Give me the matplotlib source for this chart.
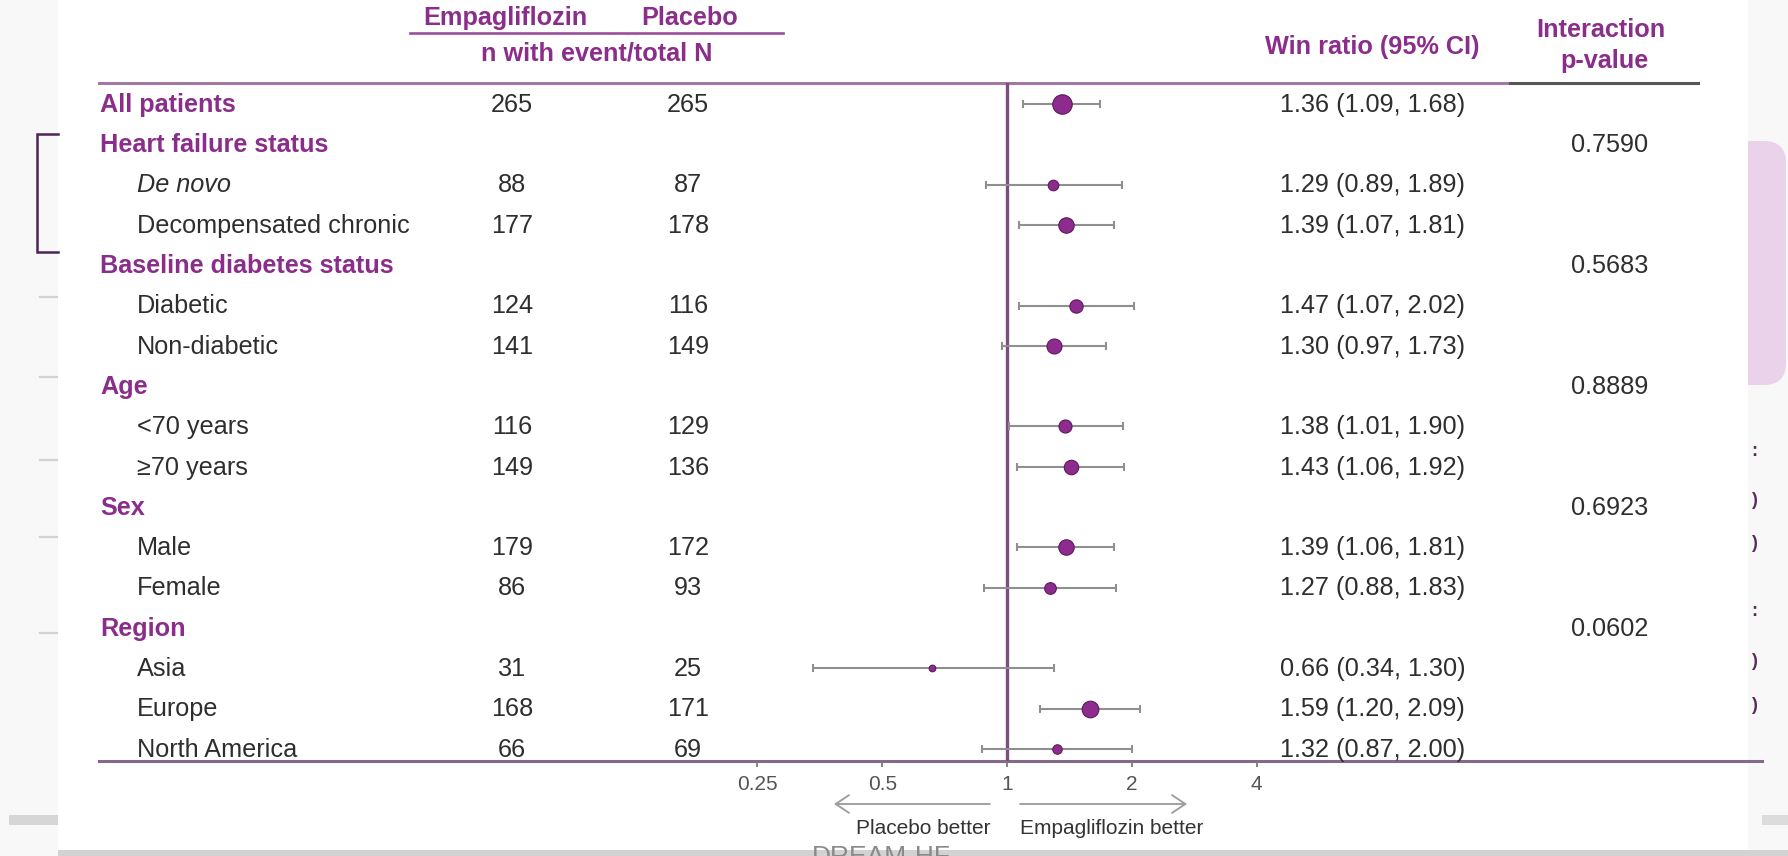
import numpy as np
import matplotlib
matplotlib.use("Agg")
import matplotlib.pyplot as plt
from matplotlib.transforms import blended_transform_factory
from matplotlib.patches import Rectangle, FancyBboxPatch, FancyArrowPatch
from matplotlib.ticker import NullLocator

plt.rcParams["font.family"] = ["Liberation Sans", "DejaVu Sans"]

# ---------------- data ----------------
row_labels = [
    "All patients",
    "Heart failure status", "De novo", "Decompensated chronic",
    "Baseline diabetes status", "Diabetic", "Non-diabetic",
    "Age", "<70 years", "\u226570 years",
    "Sex", "Male", "Female",
    "Region", "Asia", "Europe", "North America",
]
heading_rows = [0, 1, 4, 7, 10, 13]
italic_rows = [2]

n_empagliflozin = [265, None, 88, 177, None, 124, 141, None, 116, 149,
                   None, 179, 86, None, 31, 168, 66]
n_placebo = [265, None, 87, 178, None, 116, 149, None, 129, 136,
             None, 172, 93, None, 25, 171, 69]

win_ratio = [1.36, None, 1.29, 1.39, None, 1.47, 1.30, None, 1.38, 1.43,
             None, 1.39, 1.27, None, 0.66, 1.59, 1.32]
ci_lower = [1.09, None, 0.89, 1.07, None, 1.07, 0.97, None, 1.01, 1.06,
            None, 1.06, 0.88, None, 0.34, 1.20, 0.87]
ci_upper = [1.68, None, 1.89, 1.81, None, 2.02, 1.73, None, 1.90, 1.92,
            None, 1.81, 1.83, None, 1.30, 2.09, 2.00]

interaction_p = [None, "0.7590", None, None, "0.5683", None, None,
                 "0.8889", None, None, "0.6923", None, None,
                 "0.0602", None, None, None]

x_ticks = [0.25, 0.5, 1, 2, 4]
x_tick_labels = ["0.25", "0.5", "1", "2", "4"]

# marker diameter (points) per row, by study weight
marker_diam = [14.0, None, 7.6, 11.1, None, 9.6, 10.8, None, 9.4, 10.4,
               None, 11.1, 8.4, None, 4.8, 12.0, 6.8]

# ---------------- styling ----------------
W, H = 1788, 856
PURPLE = "#8b2d8b"
TEXT = "#2e2e2e"
GREY_CI = "#8f8f8f"
MARKER_FC = "#8d2b8f"
MARKER_EC = "#5c1a5e"
FS = 18.2
FS_SMALL = 15
TEXT_DY = 0.02  # nudge row text onto the marker centre line

fig = plt.figure(figsize=(W / 100, H / 100), dpi=100, facecolor="#f8f8f8")

# full-figure canvas in pixel units (y downwards)
canvas = fig.add_axes([0, 0, 1, 1])
canvas.set_xlim(0, W)
canvas.set_ylim(H, 0)
canvas.axis("off")

# slide panel and surrounding pieces
canvas.add_patch(FancyBboxPatch((1712, 141), 74, 244,
                                boxstyle="round,pad=0,rounding_size=22",
                                fc="#ead2ea", ec="none", zorder=0))
canvas.add_patch(Rectangle((58, 0), 1690, 850, fc="white", ec="none", zorder=0.5))
canvas.add_patch(Rectangle((58, 850), W - 58, 6, fc="#d2d2d2", ec="none", zorder=0.6))
canvas.add_patch(Rectangle((9, 815), 49, 10, fc="#d6d6d6", ec="none", zorder=0.6))
canvas.add_patch(Rectangle((1762, 815), 26, 10, fc="#dcdcdc", ec="none", zorder=0.6))
canvas.text(881, 845, "DREAM-HF", ha="center", va="top", fontsize=19,
            color="#8a8a8a", zorder=1)

# bracket and small dashes at the slide's left edge
canvas.plot([58, 37, 37, 58], [134, 134, 252, 252], color="#4e2456",
            lw=1.8, solid_joinstyle="miter", zorder=1)
for yd in [297, 377, 460, 537, 633]:
    canvas.plot([40, 57], [yd, yd], color="#d2d2d2", lw=1.6, zorder=1)

# partial glyphs at the slide's right edge
for yg, g in [(451, ":"), (500, ")"), (543, ")"), (612, ":"), (662, ")"), (706, ")")]:
    canvas.text(1754, yg, g, ha="center", va="center", fontsize=13,
                fontweight="bold", color="#5a2a5a", zorder=1)

# ---------------- forest axis ----------------
X1_PX, DOUBLING_PX = 1007, 124.8
AX_L, AX_R = 640, 1300
ROW0_PX, ROW_STEP = 104, 40.3
TOP_PX, BOT_PX = 83, 761

ax = fig.add_axes([AX_L / W, (H - BOT_PX) / H, (AX_R - AX_L) / W, (BOT_PX - TOP_PX) / H])
ax.set_xscale("log", base=2)
ax.set_xlim(2 ** ((AX_L - X1_PX) / DOUBLING_PX), 2 ** ((AX_R - X1_PX) / DOUBLING_PX))
ax.set_ylim((BOT_PX - ROW0_PX) / ROW_STEP, (TOP_PX - ROW0_PX) / ROW_STEP)
ax.patch.set_alpha(0)
for s in ax.spines.values():
    s.set_visible(False)
ax.set_yticks([])
ax.set_xticks(x_ticks)
ax.set_xticklabels(x_tick_labels)
ax.xaxis.set_minor_locator(NullLocator())
ax.tick_params(axis="x", direction="out", length=4.3, width=1.3, color="#7a7a7a",
               pad=6, labelsize=FS_SMALL, labelcolor="#555555")

ax.axvline(1, color="#7d4d80", lw=2.4, zorder=1)

for i, (wr, lo, hi) in enumerate(zip(win_ratio, ci_lower, ci_upper)):
    if wr is None:
        continue
    ax.errorbar([wr], [i], xerr=[[wr - lo], [hi - wr]], fmt="none",
                ecolor=GREY_CI, elinewidth=1.5, capsize=3.2, capthick=1.5, zorder=2)
    ax.plot([wr], [i], "o", ms=marker_diam[i], mfc=MARKER_FC, mec=MARKER_EC,
            mew=0.8, zorder=3)

# ---------------- table text ----------------
rows_tf = blended_transform_factory(canvas.transData, ax.transData)

for i, label in enumerate(row_labels):
    y = i + TEXT_DY
    if i in heading_rows:
        canvas.text(100, y, label, transform=rows_tf, ha="left", va="center",
                    fontsize=FS, fontweight="bold", color=PURPLE, zorder=4)
    else:
        canvas.text(137, y, label, transform=rows_tf, ha="left", va="center",
                    fontsize=FS, color=TEXT,
                    fontstyle="italic" if i in italic_rows else "normal", zorder=4)
    if n_empagliflozin[i] is not None:
        canvas.text(512, y, str(n_empagliflozin[i]), transform=rows_tf, ha="center",
                    va="center", fontsize=FS, color=TEXT, zorder=4)
        canvas.text(688, y, str(n_placebo[i]), transform=rows_tf, ha="center",
                    va="center", fontsize=FS, color=TEXT, zorder=4)
    if win_ratio[i] is not None:
        canvas.text(1280, y, f"{win_ratio[i]:.2f} ({ci_lower[i]:.2f}, {ci_upper[i]:.2f})",
                    transform=rows_tf, ha="left", va="center", fontsize=FS,
                    color=TEXT, zorder=4)
    if interaction_p[i] is not None:
        canvas.text(1610, y, interaction_p[i], transform=rows_tf, ha="center",
                    va="center", fontsize=FS, color=TEXT, zorder=4)

# column headers
canvas.text(505, 18, "Empagliflozin", ha="center", va="center", fontsize=FS,
            fontweight="bold", color=PURPLE)
canvas.text(690, 18, "Placebo", ha="center", va="center", fontsize=FS,
            fontweight="bold", color=PURPLE)
canvas.plot([410, 783], [33, 33], color="#9a4f9a", lw=1.9)
canvas.text(597, 53, "n with event/total N", ha="center", va="center", fontsize=FS,
            fontweight="bold", color=PURPLE)
canvas.text(1372, 47, "Win ratio (95% CI)", ha="center", va="center", fontsize=FS,
            fontweight="bold", color=PURPLE)
canvas.text(1601, 30, "Interaction", ha="center", va="center", fontsize=FS,
            fontweight="bold", color=PURPLE)
canvas.text(1604, 61, "p-value", ha="center", va="center", fontsize=FS,
            fontweight="bold", color=PURPLE)

# horizontal rules
canvas.plot([99, 1510], [TOP_PX, TOP_PX], color="#a07aa2", lw=2.2, zorder=2)
canvas.plot([1510, 1698], [TOP_PX, TOP_PX], color="#555555", lw=2.2, zorder=2)
canvas.plot([99, 1762], [BOT_PX, BOT_PX], color="#85698a", lw=2.2, zorder=2)

# direction arrows
for x0, x1 in [(990, 834), (1020, 1187)]:
    canvas.add_patch(FancyArrowPatch((x0, 804), (x1, 804),
                                     arrowstyle="->,head_length=1.2,head_width=0.8",
                                     mutation_scale=8, color="#9a9a9a", lw=1.3,
                                     shrinkA=0, shrinkB=0, zorder=2))
canvas.text(990, 829, "Placebo better", ha="right", va="center",
            fontsize=FS_SMALL, color="#333333")
canvas.text(1020, 829, "Empagliflozin better", ha="left", va="center",
            fontsize=FS_SMALL, color="#333333")

fig.savefig("out.png", dpi=100, facecolor=fig.get_facecolor())
